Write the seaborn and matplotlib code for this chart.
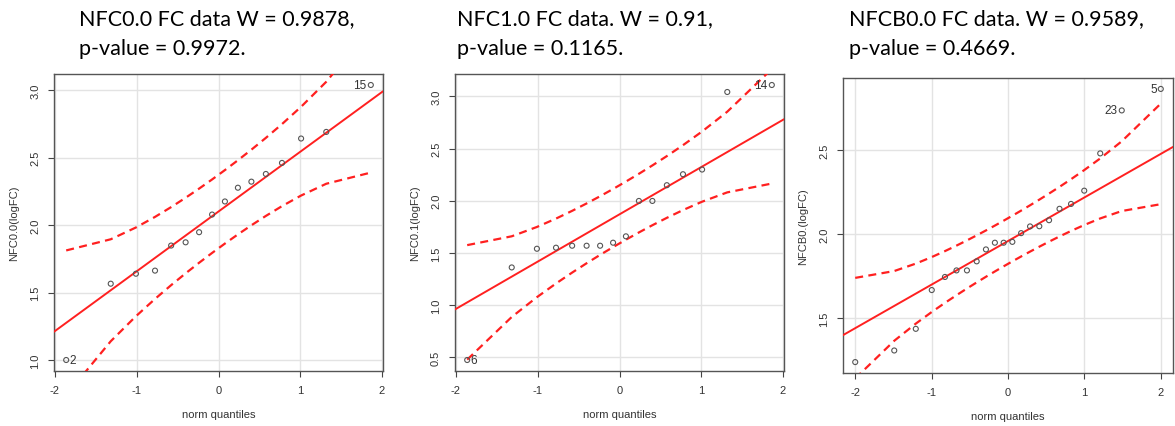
import numpy as np
import pandas as pd
import matplotlib
matplotlib.use("Agg")
import matplotlib.pyplot as plt
import seaborn as sns
from statistics import NormalDist

# Sorted log fold-change values for each condition
nfc00 = [1.000, 1.566, 1.640, 1.663, 1.849, 1.873, 1.948, 2.079,
         2.176, 2.278, 2.323, 2.380, 2.462, 2.643, 2.692, 3.040]
nfc01 = [0.474, 1.361, 1.540, 1.550, 1.569, 1.569, 1.569, 1.598,
         1.659, 1.998, 1.998, 2.149, 2.254, 2.299, 3.042, 3.109]
nfcb0 = [1.237, 1.306, 1.435, 1.666, 1.744, 1.783, 1.783, 1.837,
         1.908, 1.948, 1.948, 1.953, 2.005, 2.045, 2.046, 2.082,
         2.150, 2.179, 2.258, 2.480, 2.736, 2.864]

# Observation ids flagged next to extreme points: (rank in sorted data, id)
flags00 = [(0, "2"), (15, "15")]
flags01 = [(0, "6"), (15, "14")]
flagsb0 = [(20, "23"), (21, "5")]

ylabels = ["NFC0.0(logFC)", "NFC0.1(logFC)", "NFCB0.(logFC)"]
titles = ["NFC0.0 FC data W = 0.9878,\np-value = 0.9972.",
          "NFC1.0 FC data. W = 0.91,\np-value = 0.1165.",
          "NFCB0.0 FC data. W = 0.9589,\np-value = 0.4669."]
yticks = [[1.0, 1.5, 2.0, 2.5, 3.0],
          [0.5, 1.0, 1.5, 2.0, 2.5, 3.0],
          [1.5, 2.0, 2.5]]
xticks = [-2, -1, 0, 1, 2]

sns.set_theme(style="white")
plt.rcParams["font.family"] = ["Liberation Sans", "DejaVu Sans"]

ND = NormalDist()


def qq_frame(values):
    y = np.asarray(values, dtype=float)
    n = len(y)
    a = 3 / 8 if n <= 10 else 0.5
    p = (np.arange(1, n + 1) - a) / (n + 1 - 2 * a)
    z = np.array([ND.inv_cdf(v) for v in p])
    # reference line through the quartiles
    q1, q3 = np.quantile(y, [0.25, 0.75])
    zq1, zq3 = ND.inv_cdf(0.25), ND.inv_cdf(0.75)
    slope = (q3 - q1) / (zq3 - zq1)
    icpt = q1 - slope * zq1
    fit = icpt + slope * z
    dens = np.array([ND.pdf(v) for v in z])
    se = slope / dens * np.sqrt(p * (1 - p) / n)
    zc = ND.inv_cdf(0.975)
    df = pd.DataFrame({"z": z, "y": y, "fit": fit,
                       "upper": fit + zc * se, "lower": fit - zc * se})
    return df, slope, icpt


fig = plt.figure(figsize=(11.75, 4.27), dpi=100)
W, H = 1175, 427
boxes = [(54, 75, 329, 297), (455, 75, 329, 297), (843, 79, 330, 295)]
title_x = [79, 457, 849]
datasets = [nfc00, nfc01, nfcb0]
flags = [flags00, flags01, flagsb0]

for k in range(3):
    lx, ty, w, h = boxes[k]
    ax = fig.add_axes([lx / W, (H - ty - h) / H, w / W, h / H])
    df, slope, icpt = qq_frame(datasets[k])

    zr = df["z"].max() - df["z"].min()
    yr = df["y"].max() - df["y"].min()
    xlim = (df["z"].min() - 0.04 * zr, df["z"].max() + 0.04 * zr)
    ylim = (df["y"].min() - 0.04 * yr, df["y"].max() + 0.04 * yr)

    ax.set_xticks(xticks)
    ax.set_yticks(yticks[k])
    ax.grid(True, color="#e3e3e3", linewidth=1.0)
    ax.set_axisbelow(True)

    sns.lineplot(x=[xlim[0], xlim[1]], y=[icpt + slope * xlim[0], icpt + slope * xlim[1]],
                 ax=ax, color="#ff2020", linewidth=1.4, zorder=3)
    for col in ["upper", "lower"]:
        sns.lineplot(data=df, x="z", y=col, ax=ax, color="#ff2020",
                     linewidth=1.6, dashes=False, zorder=3, sort=False,
                     estimator=None).lines[-1].set_dashes([3.6, 2.4])
    sns.scatterplot(data=df, x="z", y="y", ax=ax, marker="o", s=13,
                    facecolor="none", edgecolor="#555555", linewidth=0.8,
                    zorder=4)

    med = np.median(df["y"])
    for r, lab in flags[k]:
        zx, yy = df["z"].iloc[r], df["y"].iloc[r]
        if yy > med:
            ax.annotate(lab, (zx, yy), xytext=(-3, 0), textcoords="offset points",
                        ha="right", va="center", fontsize=8.5, color="#333333")
        else:
            ax.annotate(lab, (zx, yy), xytext=(2, 0), textcoords="offset points",
                        ha="left", va="center", fontsize=8.5, color="#333333")

    ax.set_xlim(xlim)
    ax.set_ylim(ylim)
    ax.set_xticklabels([str(t) for t in xticks])
    ax.set_yticklabels([f"{t:.1f}" for t in yticks[k]])
    ax.tick_params(axis="both", direction="out", length=4, width=0.8,
                   color="#444444", labelsize=8, labelcolor="#333333",
                   bottom=True, left=True)
    ax.tick_params(axis="x", pad=6)
    ax.tick_params(axis="y", pad=6)
    for t in ax.get_yticklabels():
        t.set_rotation(90)
        t.set_va("center")
    for s in ax.spines.values():
        s.set_color("#555555")
        s.set_linewidth(1.0)
    ax.set_xlabel("norm quantiles", fontsize=8, color="#333333", labelpad=10)
    ax.set_ylabel(ylabels[k], fontsize=8, color="#333333", labelpad=8)

    fig.text(title_x[k] / W, 1 - 9 / H, titles[k], ha="left", va="top",
             fontsize=15.5, family=["Lato", "DejaVu Sans"], color="black",
             linespacing=1.6)

fig.savefig("out.png", dpi=100, facecolor="white")
